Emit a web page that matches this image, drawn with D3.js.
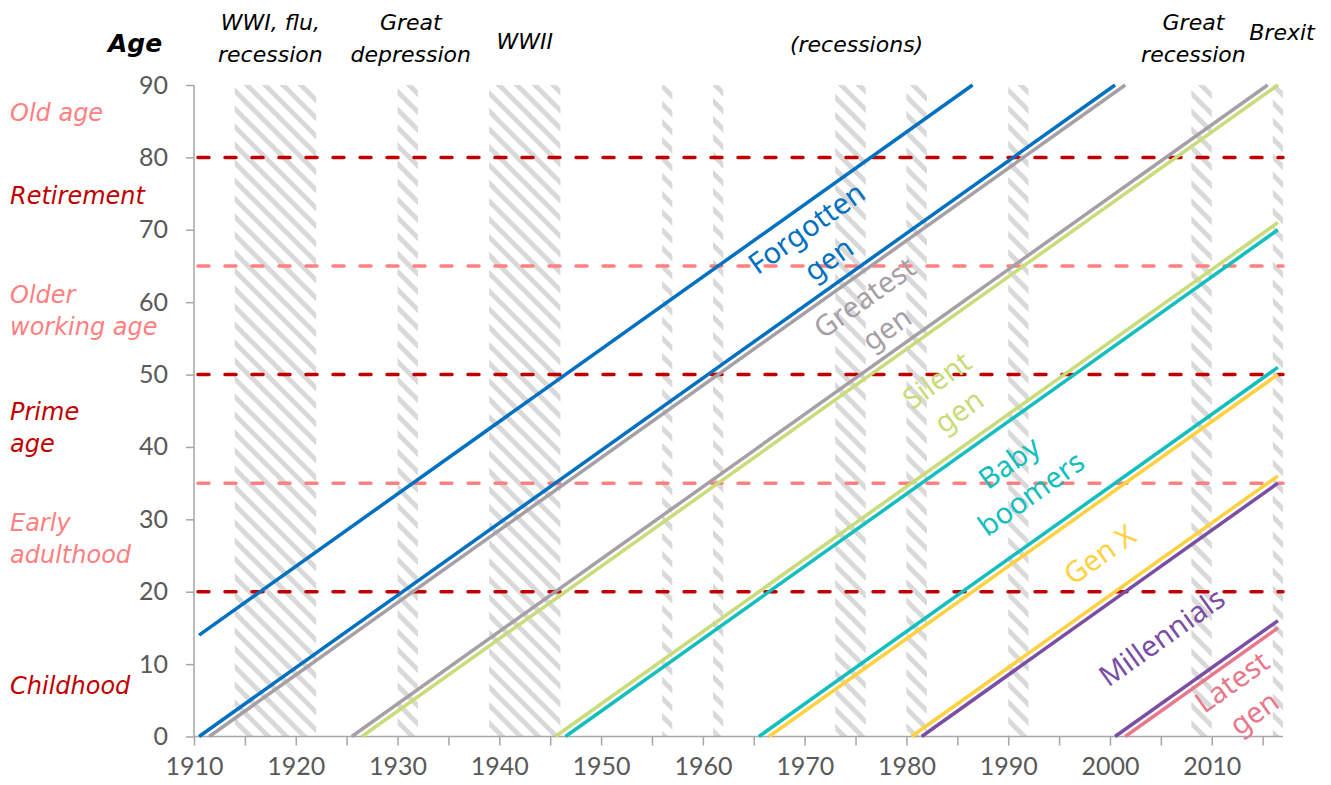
<!DOCTYPE html>
<html>
<head>
<meta charset="utf-8">
<script src="https://cdn.jsdelivr.net/npm/d3@7"></script>
<style>
  body { margin: 0; background: #fff; }
  svg text { font-family: "Noto Sans", Lato, sans-serif; }
  svg text.it { font-family: "DejaVu Sans", "Noto Sans", sans-serif; font-style: italic; }
  svg .tick text { font-family: Lato, "Noto Sans", sans-serif; }
</style>
</head>
<body>
<svg id="chart" width="1331" height="785"></svg>
<script>
// cohort lines: start (year, age) -> end (year, age)
const lineGen = [0, 0, 1, 1, 2, 2, 3, 3, 4, 4, 5, 5, 6]
const lineX0 = [1910, 1910, 1911, 1925, 1926, 1945, 1946, 1965, 1966, 1980, 1981, 2000, 2001]
const lineY0 = [14, 0, 0, 0, 0, 0, 0, 0, 0, 0, 0, 0, 0]
const lineX1 = [1986, 2000, 2001, 2015, 2016, 2016, 2016, 2016, 2016, 2016, 2016, 2016, 2016]
const lineY1 = [90, 90, 90, 90, 90, 71, 70, 51, 50, 36, 35, 16, 15]

const genNames = [["Forgotten", "gen"], ["Greatest", "gen"], ["Silent", "gen"], ["Baby", "boomers"], ["Gen X"], ["Millennials"], ["Latest", "gen"]]
const genColors = ["#0070C0", "#A6A0A6", "#C8DC78", "#12BEBE", "#FFD13F", "#7A4EA3", "#E8798C"]
const genLabelX = [1970.2, 1975.9, 1983.0, 1990.1, 1999.0, 2005.1, 2012.0]
const genLabelY = [70.2, 60.6, 49.2, 37.8, 25.1, 13.7, 7.5]

// recession / event bands (year boundaries)
const bandStart = [1914, 1930, 1939, 1956, 1961, 1973, 1980, 1990, 2008, 2016]
const bandEnd = [1922, 1932, 1946, 1957, 1962, 1976, 1982, 1992, 2010, 2017]

const eventLabels = [["WWI, flu,", "recession"], ["Great", "depression"], ["WWII"], ["(recessions)"], ["Great", "recession"], ["Brexit"]]
const eventX = [1917.5, 1931.3, 1942.5, 1975.1, 2008.2, 2016.9]

// life stage thresholds
const stageLevels = [80, 65, 50, 35, 20]
const stageLevelDark = [true, false, true, false, true]
const stageNames = [["Old age"], ["Retirement"], ["Older", "working age"], ["Prime", "age"], ["Early", "adulthood"], ["Childhood"]]
const stageY = [86.3, 74.8, 61.1, 44.9, 29.7, 7.1]
const stageDark = [false, true, false, true, false, true]

const yTicks = d3.range(0, 91, 10)
const xTicks = d3.range(1910, 2016, 5)

const svg = d3.select("#chart")
const darkRed = "#C00000"
const salmon = "#FF8080"

let x = d3.scaleLinear().domain([1910, 2017]).range([194, 1283])
let y = d3.scaleLinear().domain([0, 90]).range([736.5, 85])

// hatch pattern
let defs = svg.append("defs")
defs.append("pattern")
    .attr("id", "hatch")
    .attr("patternUnits", "userSpaceOnUse")
    .attr("width", 18)
    .attr("height", 18)
    .append("path")
    .attr("d", "M-3,-3L21,21M-3,15L3,21M15,-3L21,3")
    .attr("stroke", "#d9d9d9")
    .attr("stroke-width", 5)

svg.selectAll(".band")
    .data(bandStart)
    .enter()
    .append("rect")
    .attr("class", "band")
    .attr("x", (d) => x(d))
    .attr("width", (d, i) => x(bandEnd[i]) - x(d))
    .attr("y", y(90))
    .attr("height", y(0) - y(90))
    .attr("fill", "url(#hatch)")

// dashed stage lines
svg.selectAll(".stage")
    .data(stageLevels)
    .enter()
    .append("line")
    .attr("class", "stage")
    .attr("x1", x(1910) + 4)
    .attr("x2", x(2017))
    .attr("y1", (d) => y(d))
    .attr("y2", (d) => y(d))
    .attr("stroke", (d, i) => stageLevelDark[i] ? darkRed : salmon)
    .attr("stroke-width", 3.5)
    .attr("stroke-linecap", "round")
    .attr("stroke-dasharray", "11 16")

// axes
let xAxis = svg.append("g")
    .attr("transform", "translate(0," + y(0) + ")")
    .call(d3.axisBottom(x)
        .tickValues(xTicks)
        .tickSize(9)
        .tickPadding(12)
        .tickFormat((d) => d % 10 === 0 ? d : ""))
let yAxis = svg.append("g")
    .attr("transform", "translate(" + x(1910) + ",0)")
    .call(d3.axisLeft(y)
        .tickValues(yTicks)
        .tickSize(8)
        .tickPadding(18))

;[xAxis, yAxis].forEach((g) => {
    g.select(".domain").attr("stroke", "#a6a6a6").attr("stroke-width", 1.5)
    g.selectAll(".tick line").attr("stroke", "#a6a6a6").attr("stroke-width", 1.5)
    g.selectAll(".tick text").attr("fill", "#595959").style("font-size", "25px")
})
xAxis.select(".domain").attr("d", "M" + x(1910) + ",0H" + x(2017))
yAxis.select(".domain").attr("d", "M0," + y(90) + "V" + y(0))

// cohort lines (plotted at mid-year)
svg.selectAll(".cohort")
    .data(lineGen)
    .enter()
    .append("line")
    .attr("class", "cohort")
    .attr("x1", (d, i) => x(lineX0[i] + 0.5))
    .attr("y1", (d, i) => y(lineY0[i]))
    .attr("x2", (d, i) => x(lineX1[i] + 0.5))
    .attr("y2", (d, i) => y(lineY1[i]))
    .attr("stroke", (d) => genColors[d])
    .attr("stroke-width", 3.5)

// generation labels along lines
let angle = -Math.atan((y(0) - y(1)) / (x(1) - x(0))) * 180 / Math.PI
genNames.forEach((lines, i) => {
    let g = svg.append("g")
        .attr("transform", "translate(" + x(genLabelX[i]) + "," + y(genLabelY[i]) + ") rotate(" + angle + ")")
    lines.forEach((t, j) => {
        g.append("text")
            .text(t)
            .attr("text-anchor", "middle")
            .attr("y", 10 + j * 38)
            .attr("fill", genColors[i])
            .style("font-size", "29px")
    })
})

// event labels at top
eventLabels.forEach((lines, i) => {
    let top = lines.length === 2 ? 30 : (i === 5 ? 40 : (i === 3 ? 52 : 49))
    lines.forEach((t, j) => {
        svg.append("text")
            .attr("class", "it")
            .text(t)
            .attr("x", x(eventX[i]))
            .attr("y", top + j * 32)
            .attr("text-anchor", "middle")
            .attr("fill", "#000")
            .style("font-size", "22px")
    })
})

svg.append("text")
    .attr("class", "it")
    .text("Age")
    .attr("x", 135)
    .attr("y", 52)
    .attr("text-anchor", "middle")
    .style("font-weight", "bold")
    .style("font-size", "25px")

// life stage labels on left
stageNames.forEach((lines, i) => {
    lines.forEach((t, j) => {
        svg.append("text")
            .attr("class", "it")
            .text(t)
            .attr("x", 10)
            .attr("y", y(stageY[i]) + 9 + j * 32)
            .attr("fill", stageDark[i] ? darkRed : salmon)
            .style("font-size", "24px")
    })
})
</script>
</body>
</html>
